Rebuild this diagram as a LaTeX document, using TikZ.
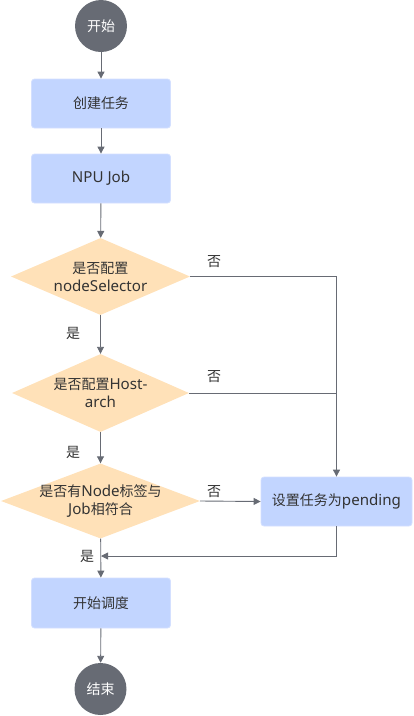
\documentclass[tikz,border=0pt]{standalone}
\usepackage{fontspec}
\setmainfont{Noto Sans}[Scale=1.08]
\newfontfamily\cjk{Noto Sans CJK SC}
\usetikzlibrary{shapes.geometric,arrows.meta}
\definecolor{boxfill}{HTML}{C2D5FF}
\definecolor{boxline}{HTML}{D4E0FF}
\definecolor{dfill}{HTML}{FFE1B8}
\definecolor{cfill}{HTML}{676B74}
\definecolor{lcol}{HTML}{676B74}
\definecolor{tcol}{HTML}{333333}
\tikzset{
  every node/.style={font=\fontsize{14}{18}\selectfont, text=tcol},
  term/.style={circle, fill=cfill, minimum size=52pt, inner sep=0pt, text=white},
  procbox/.style={rectangle, rounded corners=3pt, fill=boxfill, draw=boxline, line width=0.8pt, minimum width=139pt, minimum height=49pt, inner sep=0pt},
  decision/.style={diamond, fill=dfill, inner sep=0pt, minimum width=179pt, minimum height=77pt},
  conn/.style={draw=lcol, line width=0.9pt},
  arr/.style={conn, -{Triangle[length=7pt,width=7pt]}},
  lbl/.style={inner sep=0pt}
}
\begin{document}
\begin{tikzpicture}[x=1pt,y=-1pt]
\useasboundingbox (0,0) rectangle (413,716);
\node[term] (start) at (101,26) {\cjk 开始};
\node[procbox] (create) at (101,103.5) {\cjk 创建任务};
\node[procbox] (npu) at (101,178.5) {NPU Job};
\node[decision, label={[align=center]center:{\cjk 是否配置}\\nodeSelector}] (d1) at (100.5,276.5) {};
\node[decision, minimum width=177pt, minimum height=78pt, label={[align=center]center:{\cjk 是否配置}Host-\\arch}] (d2) at (100.5,393) {};
\node[decision, minimum width=199pt, minimum height=75pt, label={[align=center]center:{\cjk 是否有}Node{\cjk 标签与}\\Job{\cjk 相符合}}] (d3) at (100.5,501) {};
\node[procbox, minimum width=151pt] (pend) at (336.5,501.5) {{\cjk 设置任务为}pending};
\node[procbox, minimum height=50pt] (sched) at (101,603) {\cjk 开始调度};
\node[term] (end) at (100.5,689) {\cjk 结束};
\coordinate (jn) at (101,556);

\draw[arr] (start) -- (create);
\draw[arr] (create) -- (npu);
\draw[arr] (npu) -- (d1);
\draw[arr] (d1) -- (d2);
\draw[arr] (d2) -- (d3);
\draw[arr] (d3) -- (sched);
\draw[arr] (sched) -- (end);
\draw[arr] (d1.east) -| (pend.north);
\draw[conn] (d2.east) -- (d2.east -| pend.north);
\draw[arr] (d3.east) -- (pend.west);
\draw[arr] (pend.south) |- (jn);

\node[lbl] (y1) at (73,333) {\cjk 是};
\node[lbl] (y2) at (73,452) {\cjk 是};
\node[lbl] (y3) at (87,556) {\cjk 是};
\node[lbl] (n1) at (214,262) {\cjk 否};
\node[lbl] (n2) at (214,377) {\cjk 否};
\node[lbl] (n3) at (214,492) {\cjk 否};
\end{tikzpicture}
\end{document}
